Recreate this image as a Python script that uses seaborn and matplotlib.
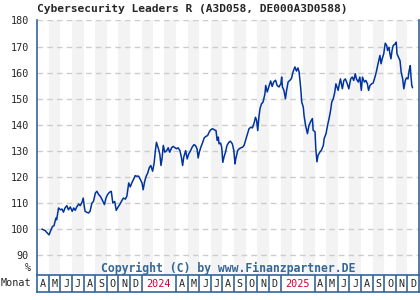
import matplotlib
matplotlib.use("Agg")
import matplotlib.pyplot as plt
import seaborn as sns
import pandas as pd

title = "Cybersecurity Leaders R (A3D058, DE000A3D0588)"
copyright_text = "Copyright (C) by www.Finanzpartner.DE"

dates = [
    "2023-04-13", "2023-04-22", "2023-04-26", "2023-05-02", "2023-05-07", "2023-05-11", "2023-05-15", "2023-05-20",
    "2023-05-22", "2023-05-27", "2023-06-01", "2023-06-05", "2023-06-09", "2023-06-13", "2023-06-18", "2023-06-22",
    "2023-06-27", "2023-07-02", "2023-07-06", "2023-07-10", "2023-07-14", "2023-07-19", "2023-07-23", "2023-07-28",
    "2023-07-31", "2023-08-03", "2023-08-05", "2023-08-10", "2023-08-14", "2023-08-18", "2023-08-23", "2023-08-27",
    "2023-09-01", "2023-09-05", "2023-09-10", "2023-09-14", "2023-09-18", "2023-09-23", "2023-09-25", "2023-09-29",
    "2023-10-03", "2023-10-08", "2023-10-13", "2023-10-17", "2023-10-22", "2023-10-26", "2023-10-31", "2023-11-05",
    "2023-11-10", "2023-11-14", "2023-11-19", "2023-11-23", "2023-11-28", "2023-12-02", "2023-12-06", "2023-12-11",
    "2023-12-15", "2023-12-19", "2023-12-24", "2023-12-28", "2024-01-02", "2024-01-05", "2024-01-09", "2024-01-13",
    "2024-01-17", "2024-01-21", "2024-01-25", "2024-01-30", "2024-02-03", "2024-02-06", "2024-02-09", "2024-02-12",
    "2024-02-15", "2024-02-18", "2024-02-21", "2024-02-24", "2024-02-27", "2024-03-02", "2024-03-07", "2024-03-11",
    "2024-03-15", "2024-03-20", "2024-03-24", "2024-03-29", "2024-04-02", "2024-04-06", "2024-04-11", "2024-04-15",
    "2024-04-18", "2024-04-21", "2024-04-26", "2024-04-30", "2024-05-04", "2024-05-09", "2024-05-13", "2024-05-18",
    "2024-05-22", "2024-05-26", "2024-05-29", "2024-06-01", "2024-06-05", "2024-06-10", "2024-06-14", "2024-06-18",
    "2024-06-23", "2024-06-27", "2024-07-01", "2024-07-06", "2024-07-10", "2024-07-15", "2024-07-18", "2024-07-21",
    "2024-07-23", "2024-07-27", "2024-07-30", "2024-08-02", "2024-08-05", "2024-08-09", "2024-08-13", "2024-08-18",
    "2024-08-22", "2024-08-27", "2024-08-31", "2024-09-03", "2024-09-05", "2024-09-10", "2024-09-14", "2024-09-19",
    "2024-09-23", "2024-09-27", "2024-10-02", "2024-10-06", "2024-10-10", "2024-10-15", "2024-10-19", "2024-10-24",
    "2024-10-27", "2024-10-30", "2024-11-02", "2024-11-05", "2024-11-08", "2024-11-12", "2024-11-16", "2024-11-21",
    "2024-11-23", "2024-11-27", "2024-12-01", "2024-12-06", "2024-12-10", "2024-12-14", "2024-12-19", "2024-12-23",
    "2024-12-28", "2025-01-02", "2025-01-04", "2025-01-06", "2025-01-10", "2025-01-14", "2025-01-17", "2025-01-21",
    "2025-01-26", "2025-01-30", "2025-02-03", "2025-02-08", "2025-02-12", "2025-02-16", "2025-02-19", "2025-02-23",
    "2025-02-26", "2025-03-02", "2025-03-04", "2025-03-08", "2025-03-11", "2025-03-13", "2025-03-17", "2025-03-21",
    "2025-03-26", "2025-03-28", "2025-04-02", "2025-04-04", "2025-04-07", "2025-04-10", "2025-04-15", "2025-04-19",
    "2025-04-24", "2025-04-26", "2025-05-01", "2025-05-05", "2025-05-09", "2025-05-13", "2025-05-16", "2025-05-20",
    "2025-05-24", "2025-05-27", "2025-05-30", "2025-06-02", "2025-06-05", "2025-06-08", "2025-06-13", "2025-06-17",
    "2025-06-21", "2025-06-26", "2025-06-30", "2025-07-05", "2025-07-09", "2025-07-13", "2025-07-17", "2025-07-20",
    "2025-07-25", "2025-07-29", "2025-08-02", "2025-08-05", "2025-08-10", "2025-08-14", "2025-08-18", "2025-08-21",
    "2025-08-25", "2025-08-29", "2025-09-02", "2025-09-07", "2025-09-11", "2025-09-15", "2025-09-20", "2025-09-23",
    "2025-09-26", "2025-09-30", "2025-10-04", "2025-10-08", "2025-10-10", "2025-10-14", "2025-10-16", "2025-10-19",
    "2025-10-22", "2025-10-25", "2025-10-30", "2025-11-02", "2025-11-04", "2025-11-08", "2025-11-12", "2025-11-15",
    "2025-11-19", "2025-11-22", "2025-11-26", "2025-11-29", "2025-12-03", "2025-12-06", "2025-12-09", "2025-12-11",
    "2025-12-13", "2025-12-15",
]

values = [
    100.0, 99.4, 98.7, 97.8, 99.7, 101.0, 101.3, 104.2,
    103.6, 108.1, 107.4, 107.7, 106.5, 108.1, 109.0, 107.4,
    108.5, 106.8, 108.1, 107.2, 108.5, 109.6, 109.0, 110.3,
    111.9, 108.5, 106.8, 106.4, 106.2, 106.8, 110.0, 110.6,
    113.8, 114.5, 113.2, 112.6, 111.5, 110.0, 109.4, 111.9,
    113.2, 114.1, 114.5, 110.0, 110.6, 107.2, 108.5, 109.6,
    111.0, 111.9, 111.5, 112.6, 117.7, 116.2, 117.7, 119.2,
    120.5, 120.3, 120.3, 119.2, 117.7, 115.1, 118.3, 120.3,
    121.5, 123.5, 124.4, 122.2, 125.4, 129.9, 133.3, 131.8,
    130.5, 128.6, 124.4, 127.3, 132.1, 129.5, 130.1, 131.2,
    129.5, 131.2, 131.7, 131.2, 130.8, 131.2, 130.1, 127.3,
    124.4, 127.6, 130.1, 126.9, 128.8, 130.1, 131.4, 132.4,
    132.0, 130.8, 127.3, 129.5, 131.4, 133.3, 135.0, 135.5,
    135.9, 137.2, 138.1, 138.5, 138.1, 137.8, 134.0, 135.3,
    132.7, 133.0, 131.4, 125.6, 127.6, 129.5, 132.1, 133.3,
    133.7, 132.7, 130.1, 125.0, 126.9, 130.1, 130.8, 131.2,
    131.4, 132.1, 134.6, 136.5, 138.5, 139.1, 138.8, 141.0,
    142.9, 141.7, 137.8, 142.9, 146.2, 148.1, 148.7, 151.9,
    155.1, 152.6, 154.5, 156.8, 154.7, 156.4, 157.1, 155.1,
    154.5, 155.8, 158.3, 154.5, 153.2, 150.0, 153.2, 156.4,
    157.1, 157.8, 160.3, 162.2, 160.6, 161.8, 160.2, 154.5,
    148.7, 146.8, 143.6, 139.8, 137.9, 136.6, 139.8, 141.1,
    142.4, 137.9, 137.3, 130.9, 125.8, 128.3, 129.6, 130.3,
    132.2, 134.7, 136.6, 139.8, 142.4, 145.5, 148.7, 150.0,
    152.5, 155.7, 154.5, 153.2, 155.7, 157.6, 153.8, 157.0,
    157.6, 155.7, 153.8, 157.6, 158.3, 157.0, 159.6, 157.6,
    156.4, 158.3, 153.2, 158.3, 156.4, 157.0, 155.7, 153.2,
    155.1, 155.7, 156.0, 158.3, 160.6, 163.4, 166.6, 163.4,
    165.3, 167.2, 171.3, 170.4, 168.5, 169.7, 167.5, 165.3,
    168.5, 170.4, 171.0, 171.7, 167.2, 165.9, 164.6, 160.2,
    157.6, 153.8, 157.0, 158.0, 157.6, 160.8, 162.7, 158.3,
    155.1, 154.2,
]

y_ticks = [90, 100, 110, 120, 130, 140, 150, 160, 170, 180]
month_letters = ["J", "F", "M", "A", "M", "J", "J", "A", "S", "O", "N", "D"]

start = pd.Timestamp("2023-04-01")
end = pd.Timestamp("2026-01-01")

sns.set_style("white")
plt.rcParams["font.family"] = ["DejaVu Sans Mono", "DejaVu Sans"]

W, H = 420, 300
fig = plt.figure(figsize=(W / 100, H / 100), dpi=100)
left, right = 37.3, 419.0
top, bottom = 19.7, 275.0
ax = fig.add_axes([left / W, 1 - bottom / H, (right - left) / W, (bottom - top) / H])

df = pd.DataFrame({"date": pd.to_datetime(dates), "value": values})

# stripes: every other month
months = pd.date_range(start, end, freq="MS")
for i in range(len(months) - 1):
    if i % 2 == 1:
        ax.axvspan(months[i], months[i + 1], color="#f3f3f3", lw=0, zorder=0)

for t in y_ticks:
    ax.axhline(t, color="#cccccc", lw=1, ls=(0, (4, 3)), zorder=1)

sns.lineplot(data=df, x="date", y="value", ax=ax, color="#0033a0", lw=1.1, zorder=3)

ax.set_xlim(start, end)
ax.set_ylim(82.4, 180.3)
ax.set_yticks(y_ticks)
ax.set_yticklabels([str(t) for t in y_ticks], fontsize=7.3)
ax.tick_params(axis="y", length=0, pad=6)
ax.set_xticks([])
ax.set_xlabel("")
ax.set_ylabel("")
for s in ["top", "bottom"]:
    ax.spines[s].set_visible(False)
for s in ["left", "right"]:
    ax.spines[s].set_color("#336699")
    ax.spines[s].set_linewidth(1.2)

fig.text((left + right) / 2 / W, 1 - 268 / H, copyright_text, ha="center", va="center",
         fontsize=8.3, fontweight="bold", color="#336699")
fig.text(31 / W, 1 - 268 / H, "%", ha="right", va="center", fontsize=7.3)
fig.text(left / W, 1 - 8.5 / H, title, ha="left", va="center", fontsize=8.1, fontweight="bold")

# month row
mb_top, mb_bot = 275.0, 292.0
ax2 = fig.add_axes([left / W, 1 - mb_bot / H, (right - left) / W, (mb_bot - mb_top) / H])
ax2.set_xlim(start, end)
ax2.set_ylim(0, 1)
ax2.set_xticks([])
ax2.set_yticks([])
for s in ax2.spines.values():
    s.set_color("#336699")
    s.set_linewidth(1.2)
for i in range(len(months) - 1):
    m0, m1 = months[i], months[i + 1]
    if m0.month in (2, 3):
        continue
    if i > 0:
        ax2.axvline(m0, color="#336699", lw=1.2)
    if m0.month == 1:
        mid = m0 + (months[i + 3] - m0) / 2
        ax2.text(mid, 0.45, str(m0.year), ha="center", va="center", fontsize=7.3, color="#cc0033")
    else:
        mid = m0 + (m1 - m0) / 2
        ax2.text(mid, 0.45, month_letters[m0.month - 1], ha="center", va="center", fontsize=7.3)

fig.text(1 / W, 1 - 283.5 / H, "Monat", ha="left", va="center", fontsize=7.3)

fig.savefig("out.png", dpi=100)
